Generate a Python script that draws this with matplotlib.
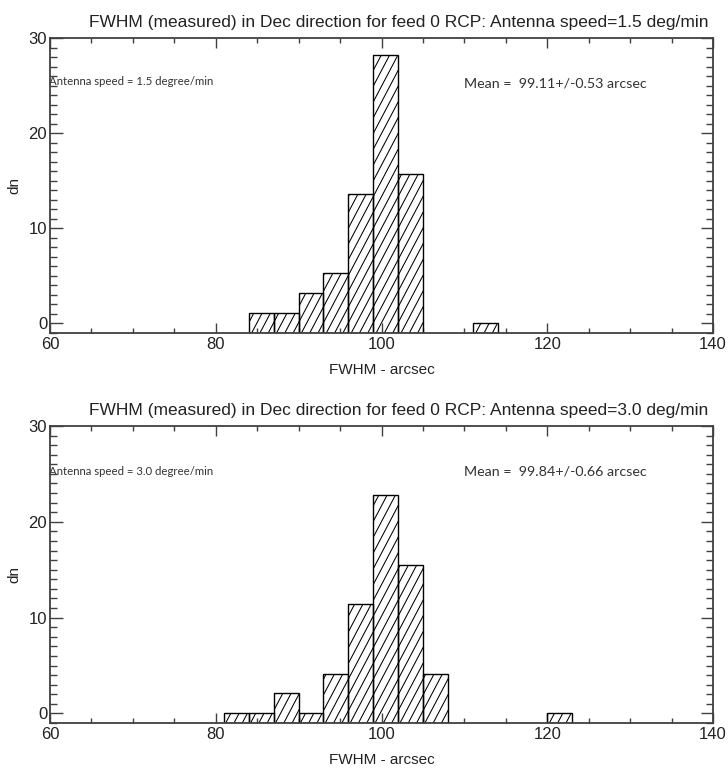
import numpy as np
import matplotlib
matplotlib.use("Agg")
import matplotlib.pyplot as plt
from matplotlib.ticker import MultipleLocator
from matplotlib.collections import LineCollection

# ---------------- data ----------------
bin_width = 3
top_edges = [84, 87, 90, 93, 96, 99, 102, 105, 108, 111]
top_values = [1.1, 1.1, 3.2, 5.3, 13.6, 28.2, 15.7, np.nan, np.nan, 0.05]

bot_edges = [81, 84, 87, 90, 93, 96, 99, 102, 105, 108, 111, 114, 117, 120]
bot_values = [0.0, 0.0, 2.1, 0.0, 4.1, 11.4, 22.8, 15.5, 4.1,
              np.nan, np.nan, np.nan, np.nan, 0.0]

titles = ["FWHM (measured) in Dec direction for feed 0 RCP: Antenna speed=1.5 deg/min",
          "FWHM (measured) in Dec direction for feed 0 RCP: Antenna speed=3.0 deg/min"]
speed_texts = ["Antenna speed = 1.5 degree/min", "Antenna speed = 3.0 degree/min"]
mean_texts = ["Mean =  99.11+/-0.53 arcsec", "Mean =  99.84+/-0.66 arcsec"]
xlabel = "FWHM - arcsec"
ylabel = "dn"
x_ticks = [60, 80, 100, 120, 140]
y_ticks = [0, 10, 20, 30]
ymin, ymax = -1, 30

# ---------------- style ----------------
label_font = ["Liberation Sans", "DejaVu Sans"]
note_font = ["Lato", "DejaVu Sans"]
axis_col = '#404040'
txt_col = '#222222'
hatch_spacing_px = 8.3
hatch_slope = 1.9

fig = plt.figure(figsize=(7.28, 7.74), dpi=100)
W, H = 728, 774
panels = [
    (50, 713, 38, 333),
    (50, 713, 426, 723),
]
data = [(top_edges, top_values), (bot_edges, bot_values)]

for i, (l, r, t, b) in enumerate(panels):
    ax = fig.add_axes([l / W, 1 - b / H, (r - l) / W, (b - t) / H])
    aw, ah = r - l, b - t
    edges, vals = data[i]
    vals = np.array(vals, dtype=float)
    mask = ~np.isnan(vals)
    xs = np.array(edges)[mask]
    hs = vals[mask] - ymin
    bars = ax.bar(xs, hs, width=bin_width, bottom=ymin, align='edge', fill=False,
                  edgecolor='black', linewidth=1.0, zorder=3)

    # steep hatch lines (in axes pixel space), clipped to each bar
    x0s = np.arange(-ah / hatch_slope, aw + hatch_spacing_px, hatch_spacing_px)
    segs = [[(x0 / aw, 0.0), ((x0 + ah / hatch_slope) / aw, 1.0)] for x0 in x0s]
    for rect in bars.patches:
        lc = LineCollection(segs, transform=ax.transAxes, colors='black',
                            linewidths=0.75, zorder=2)
        ax.add_collection(lc, autolim=False)
        lc.set_clip_path(rect)

    ax.set_xlim(60, 140)
    ax.set_ylim(ymin, ymax)
    ax.set_xticks(x_ticks)
    ax.set_yticks(y_ticks)
    ax.xaxis.set_minor_locator(MultipleLocator(5))
    ax.yaxis.set_minor_locator(MultipleLocator(1))
    ax.tick_params(axis='both', which='both', direction='in', top=True, right=True,
                   color=axis_col, width=1.0)
    ax.tick_params(axis='x', which='major', length=7, pad=3)
    ax.tick_params(axis='x', which='minor', length=3.5)
    ax.tick_params(axis='y', which='major', length=9, pad=2)
    ax.tick_params(axis='y', which='minor', length=5)
    for s in ax.spines.values():
        s.set_color(axis_col)
        s.set_linewidth(1.3)
        s.set_zorder(4)
    for lab in ax.get_xticklabels() + ax.get_yticklabels():
        lab.set_family(label_font)
        lab.set_fontsize(12)
        lab.set_color(txt_col)

    ax.set_xlabel(xlabel, family=label_font, fontsize=11, color=txt_col, labelpad=8)
    ax.set_ylabel(ylabel, family=label_font, fontsize=11, color=txt_col, labelpad=5)
    ax.set_title(titles[i], family=label_font, fontsize=12.5, color=txt_col,
                 x=0.526, pad=8)

    ax.text(-0.002, 0.852 if i == 0 else 0.848, speed_texts[i], transform=ax.transAxes,
            family=note_font, fontsize=8.2, va='center', ha='left', color='#333333')
    ax.text(0.624, 0.847 if i == 0 else 0.846, mean_texts[i], transform=ax.transAxes,
            family=note_font, fontsize=10.3, va='center', ha='left', color='#333333')

fig.savefig("out.png", dpi=100)
